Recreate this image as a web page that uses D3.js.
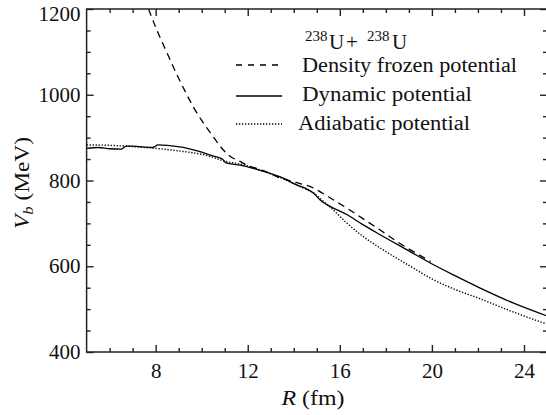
<!DOCTYPE html>
<html><head><meta charset="utf-8">
<script src="https://cdn.jsdelivr.net/npm/d3@7"></script>
<style>
html,body{margin:0;padding:0;background:#fff;}
svg text{font-family:"Liberation Serif","Times New Roman",serif;fill:#111;}
</style></head>
<body><svg id="c" width="546" height="415"></svg>
<script>
// Data (R in fm, V_b in MeV)
const frozenR = [7.69, 8.05, 8.5, 8.93, 9.3, 9.64, 10.0, 10.23, 10.45, 10.8, 11.2, 11.68, 12.0, 12.5, 13.0, 13.4, 14.0, 14.87, 15.5, 16.32, 17.0, 17.77, 18.5, 19.2, 19.95];
const frozenV = [1200, 1151, 1097, 1046, 1006, 971, 940, 922, 906, 880, 858, 844, 835, 826, 816, 806, 797, 782, 762, 735, 711, 684, 657, 634, 611];

const dynamicR = [5.0, 5.5, 6.0, 6.5, 6.72, 7.0, 7.5, 7.88, 8.1, 8.5, 9.2, 9.5, 10.0, 10.37, 10.9, 11.05, 11.68, 12.4, 13.0, 13.56, 14.15, 14.58, 14.87, 15.1, 15.3, 15.6, 16.32, 17.0, 17.77, 19.0, 19.95, 21.0, 22.1, 23.5, 25.0];
const dynamicV = [875, 877, 874, 873, 880, 880, 878, 877, 883, 882, 877, 873, 866, 859, 850, 841, 836, 826, 816, 805, 789, 780, 770, 757, 748, 739, 720, 697, 673, 636, 607, 578, 549, 515, 484];

const adiabaticR = [5.0, 6.0, 7.0, 8.0, 9.0, 10.0, 10.37, 11.0, 11.7, 12.5, 13.5, 14.3, 14.87, 15.3, 15.6, 16.32, 17.0, 17.77, 19.0, 19.95, 21.0, 22.1, 23.5, 25.0];
const adiabaticV = [883, 882, 879, 875, 869, 861, 856, 845, 838, 825, 805, 785, 770, 751, 737, 700, 670, 642, 602, 572, 546, 524, 494, 465];

const xTicks = [8, 12, 16, 20, 24];
const yTicks = [400, 600, 800, 1000, 1200];
const legendLabels = ["Density frozen potential", "Dynamic potential", "Adiabatic potential"];

const svg = d3.select("#c");
const x = d3.scaleLinear().domain([5, 25]).range([86.6, 547]);
const y = d3.scaleLinear().domain([400, 1200]).range([352, 9]);

svg.append("clipPath").attr("id","pc").append("rect")
  .attr("x", x(5)).attr("y", y(1200)).attr("width", x(25)-x(5)).attr("height", y(400)-y(1200));

// Curves
const line = (R, V) => d3.line().x((d,i)=>x(R[i])).y((d,i)=>y(V[i])).curve(d3.curveMonotoneX)(R);
const curves = svg.append("g").attr("clip-path","url(#pc)");
curves.append("path").attr("d", line(frozenR, frozenV)).attr("fill","none").attr("stroke","#000").attr("stroke-width",1.3).attr("stroke-dasharray","7,5");
curves.append("path").attr("d", line(dynamicR, dynamicV)).attr("fill","none").attr("stroke","#000").attr("stroke-width",1.3);
curves.append("path").attr("d", line(adiabaticR, adiabaticV)).attr("fill","none").attr("stroke","#000").attr("stroke-width",1.4).attr("stroke-dasharray","1.3,1.7");

// Axes (ticks inward on all sides)
const axColor = "#222";
const minorX = d3.range(6, 25, 1).filter(v => !xTicks.includes(v));
const minorY = d3.range(450, 1200, 50).filter(v => !yTicks.includes(v));
function styleAxis(sel){
  sel.select(".domain").remove();
  sel.selectAll("line").attr("stroke", axColor).attr("stroke-width",1.4);
  sel.selectAll("text").attr("font-size","21px").attr("fill","#111").attr("font-family","Liberation Serif, serif");
}
const xb = svg.append("g").attr("transform",`translate(0,${y(400)})`)
  .call(d3.axisBottom(x).tickValues(xTicks).tickSize(-7).tickPadding(11).tickFormat(d3.format("d")));
styleAxis(xb);
const xbm = svg.append("g").attr("transform",`translate(0,${y(400)})`)
  .call(d3.axisBottom(x).tickValues(minorX).tickSize(-4).tickFormat(""));
styleAxis(xbm);
const xt = svg.append("g").attr("transform",`translate(0,${y(1200)})`)
  .call(d3.axisTop(x).tickValues(xTicks).tickSize(-7).tickFormat(""));
styleAxis(xt);
const xtm = svg.append("g").attr("transform",`translate(0,${y(1200)})`)
  .call(d3.axisTop(x).tickValues(minorX).tickSize(-4).tickFormat(""));
styleAxis(xtm);
const yl = svg.append("g").attr("transform",`translate(${x(5)},0)`)
  .call(d3.axisLeft(y).tickValues(yTicks).tickSize(-7).tickPadding(6).tickFormat(d3.format("d")));
styleAxis(yl);
yl.selectAll(".tick").filter(d => d === 1200).select("text").attr("dy","0.55em");
const ylm = svg.append("g").attr("transform",`translate(${x(5)},0)`)
  .call(d3.axisLeft(y).tickValues(minorY).tickSize(-4).tickFormat(""));
styleAxis(ylm);
const yr = svg.append("g").attr("transform",`translate(${x(25)},0)`)
  .call(d3.axisRight(y).tickValues(yTicks).tickSize(-7).tickFormat(""));
styleAxis(yr);
const yrm = svg.append("g").attr("transform",`translate(${x(25)},0)`)
  .call(d3.axisRight(y).tickValues(minorY).tickSize(-4).tickFormat(""));
styleAxis(yrm);

// Frame
svg.append("rect").attr("x", x(5)).attr("y", y(1200)).attr("width", x(25)-x(5)).attr("height", y(400)-y(1200))
  .attr("fill","none").attr("stroke", axColor).attr("stroke-width",1.5);

// Axis labels
const xl = svg.append("text").attr("x", 313).attr("y", 405).attr("text-anchor","middle").attr("font-size","21px")
  .attr("textLength", 63).attr("lengthAdjust","spacingAndGlyphs");
xl.append("tspan").attr("font-style","italic").text("R");
xl.append("tspan").text(" (fm)");

const ylab = svg.append("text").attr("transform","translate(29,183) rotate(-90)").attr("text-anchor","middle").attr("font-size","21px")
  .attr("textLength", 92).attr("lengthAdjust","spacingAndGlyphs");
ylab.append("tspan").attr("font-style","italic").text("V");
ylab.append("tspan").attr("font-style","italic").attr("font-size","15px").attr("dy","4").text("b");
ylab.append("tspan").attr("dy","-4").text(" (MeV)");

// Legend title with explicit glyph-group positions
const title = svg.append("text").attr("y", 49).attr("font-size","21px");
title.append("tspan").attr("x", 305).attr("font-size","15px").attr("dy","-8").text("238");
title.append("tspan").attr("x", 329).attr("dy","8").text("U");
title.append("tspan").attr("x", 346).text("+");
title.append("tspan").attr("x", 367).attr("font-size","15px").attr("dy","-8").text("238");
title.append("tspan").attr("x", 392).attr("dy","8").text("U");

const dashes = ["6,6", null, "1.3,1.7"];
const lineY = [65, 96, 124];
const textY = [72, 101, 130];
const textX = [302, 302, 298];
const textW = [215, 170, 172];
legendLabels.forEach((lab, i) => {
  const l = svg.append("line").attr("x1", 236).attr("x2", 282).attr("y1", lineY[i]).attr("y2", lineY[i])
    .attr("stroke","#000").attr("stroke-width", 1.3);
  if (dashes[i]) l.attr("stroke-dasharray", dashes[i]);
  svg.append("text").attr("x", textX[i]).attr("y", textY[i]).attr("font-size","20px")
    .attr("textLength", textW[i]).attr("lengthAdjust","spacingAndGlyphs").text(lab);
});
</script></body></html>
